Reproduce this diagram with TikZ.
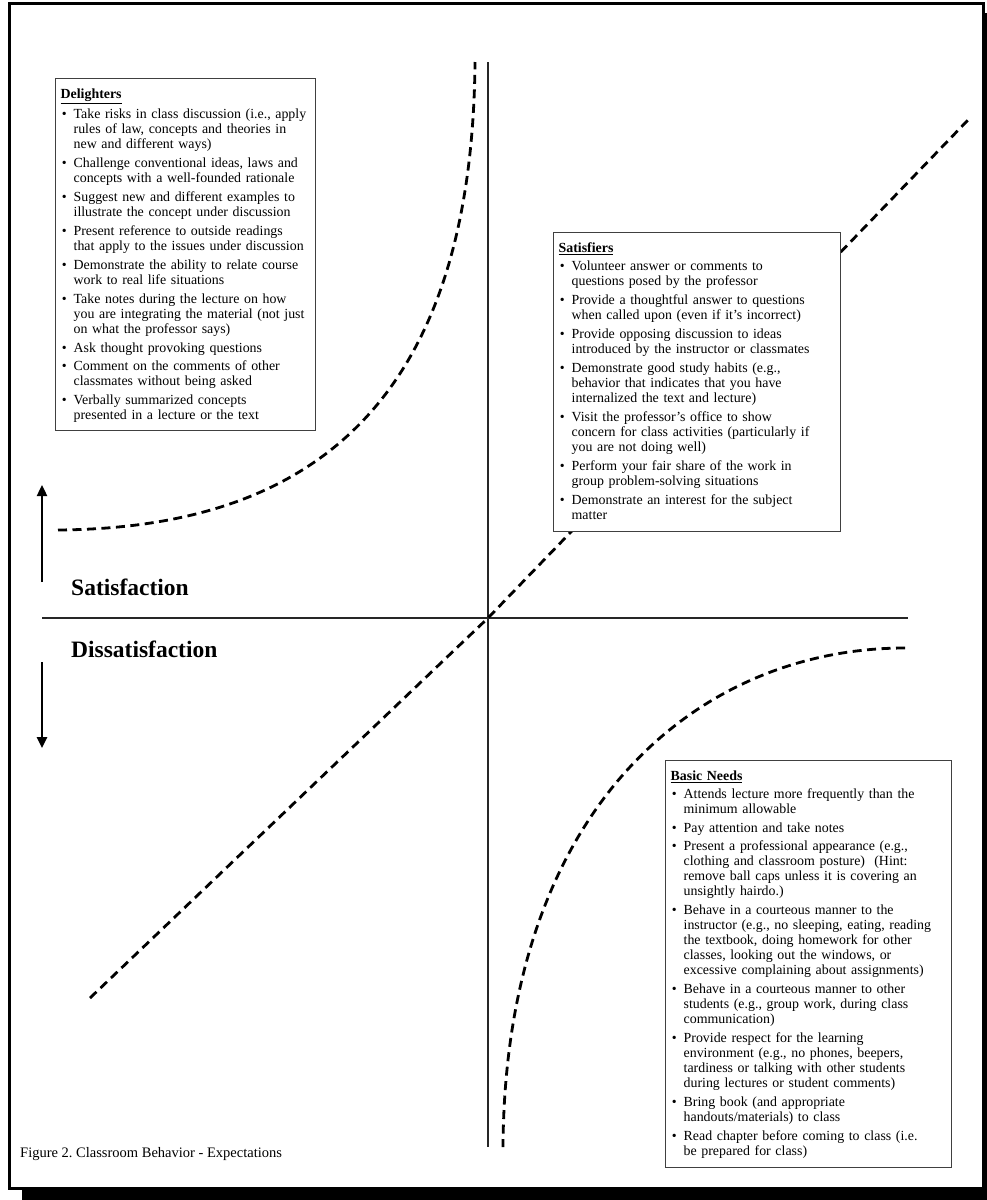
\documentclass[tikz,border=0pt]{standalone}
\usepackage{fontspec}
\setmainfont{Liberation Serif}
\usetikzlibrary{arrows.meta}

\newcommand\bodysize{\fontsize{13.9}{15.0}\selectfont}
% one bulleted entry; its lines are stacked in a top-aligned column
\newcommand\bitem[1]{\par\vskip3pt\noindent
  \makebox[13pt][l]{\hspace{1.2pt}\textbullet}%
  \begin{tabular}[t]{@{}l@{}}#1\end{tabular}\par}
\newcommand\boxhead[1]{\raggedright\noindent\rule{0pt}{13pt}\underline{\textbf{#1}}\par}

\begin{document}
\frenchspacing
\begin{tikzpicture}[x=1pt,y=-1pt,
  axis/.style={line width=1.4pt, black!85},
  dashcurve/.style={line width=2.8pt, dash pattern=on 9pt off 5.5pt},
  vert/.style={line width=2.4pt, -{Triangle[length=11pt,width=10pt]}},
  listbox/.style={draw=black!75, line width=1.3pt, fill=white, anchor=north west,
    inner xsep=5pt, inner ysep=7pt, text width=#1, font=\bodysize},
  biglabel/.style={font=\fontsize{23.5}{27}\selectfont\bfseries, anchor=west, inner sep=0pt}]
\useasboundingbox (0,0) rectangle (987,1200);
\clip (0,0) rectangle (987,1200);

% page frame with its drop shadow
\fill[black] (22,13) rectangle (1000,1210);
\draw[line width=3.5pt, fill=white] (9.5,3.5) rectangle (983.5,1188.5);

% axes
\coordinate (vtop) at (488,62);
\coordinate (vbot) at (488,1147);
\coordinate (hl) at (42,618);
\coordinate (hr) at (908,618);
\coordinate (o) at (488,618);
\draw[axis] (vtop) -- (vbot);
\draw[axis] (hl) -- (hr);

% the three dashed response curves
\coordinate (d0) at (58,530);
\coordinate (d1) at (475,62);
\draw[dashcurve] (d0) .. controls (300,528) and (472,415) .. (d1);
\coordinate (s0) at (90,998);
\coordinate (s1) at (968,120);
\draw[dashcurve] (s0) -- (o) -- (s1);
\coordinate (b0) at (905,648);
\coordinate (b1) at (503,1147);
\draw[dashcurve] (b0) .. controls (700,648) and (505,805) .. (b1);

% direction arrows
\coordinate (upt) at (42,582);
\coordinate (uph) at (42,485);
\coordinate (dnt) at (42,662);
\coordinate (dnh) at (42,748);
\draw[vert] (upt) -- (uph);
\draw[vert] (dnt) -- (dnh);

\node[biglabel] (sat) at (71,587) {Satisfaction};
\node[biglabel] (dis) at (71,649) {Dissatisfaction};

\node[listbox=250pt] (del) at (55,78) {%
\boxhead{Delighters}
\bitem{Take risks in class discussion (i.e., apply\\rules of law, concepts and theories in\\new and different ways)}
\bitem{Challenge conventional ideas, laws and\\concepts with a well-founded rationale}
\bitem{Suggest new and different examples to\\illustrate the concept under discussion}
\bitem{Present reference to outside readings\\that apply to the issues under discussion}
\bitem{Demonstrate the ability to relate course\\work to real life situations}
\bitem{Take notes during the lecture on how\\you are integrating the material (not just\\on what the professor says)}
\bitem{Ask thought provoking questions}
\bitem{Comment on the comments of other\\classmates without being asked}
\bitem{Verbally summarized concepts\\presented in a lecture or the text}};

\node[listbox=277pt] (satbox) at (553,232) {%
\boxhead{Satisfiers}
\bitem{Volunteer answer or comments to\\questions posed by the professor}
\bitem{Provide a thoughtful answer to questions\\when called upon (even if it’s incorrect)}
\bitem{Provide opposing discussion to ideas\\introduced by the instructor or classmates}
\bitem{Demonstrate good study habits (e.g.,\\behavior that indicates that you have\\internalized the text and lecture)}
\bitem{Visit the professor’s office to show\\concern for class activities (particularly if\\you are not doing well)}
\bitem{Perform your fair share of the work in\\group problem-solving situations}
\bitem{Demonstrate an interest for the subject\\matter}};

\node[listbox=276pt] (basic) at (665,760) {%
\boxhead{Basic Needs}
\bitem{Attends lecture more frequently than the\\minimum allowable}
\bitem{Pay attention and take notes}
\bitem{Present a professional appearance (e.g.,\\clothing and classroom posture)\ \ (Hint:\\remove ball caps unless it is covering an\\unsightly hairdo.)}
\bitem{Behave in a courteous manner to the\\instructor (e.g., no sleeping, eating, reading\\the textbook, doing homework for other\\classes, looking out the windows, or\\excessive complaining about assignments)}
\bitem{Behave in a courteous manner to other\\students (e.g., group work, during class\\communication)}
\bitem{Provide respect for the learning\\environment (e.g., no phones, beepers,\\tardiness or talking with other students\\during lectures or student comments)}
\bitem{Bring book (and appropriate\\handouts/materials) to class}
\bitem{Read chapter before coming to class (i.e.\\be prepared for class)}};

\node[anchor=base west, inner sep=0pt, font=\fontsize{14.5}{16}\selectfont] (cap) at (20,1157)
  {Figure 2. Classroom Behavior - Expectations};
\end{tikzpicture}
\end{document}
